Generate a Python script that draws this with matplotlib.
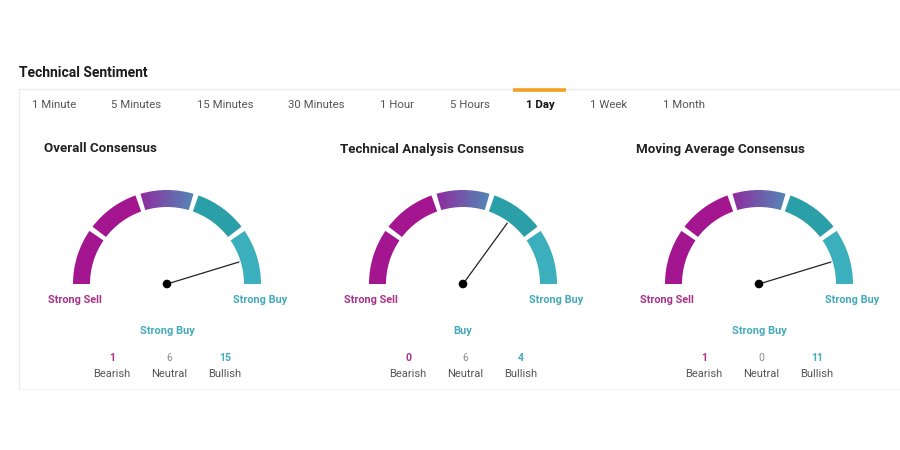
import numpy as np
import matplotlib.pyplot as plt
from matplotlib.patches import Wedge, Circle
from matplotlib.colors import to_rgb

plt.rcParams['font.family'] = ['Roboto', 'DejaVu Sans']

# data
tabs = ['1 Minute', '5 Minutes', '15 Minutes', '30 Minutes', '1 Hour', '5 Hours', '1 Day', '1 Week', '1 Month']
tab_x = [32, 111, 197, 288, 380, 450, 526, 590, 663]
active_tab = '1 Day'
panels = ['Overall Consensus', 'Technical Analysis Consensus', 'Moving Average Consensus']
verdicts = ['Strong Buy', 'Buy', 'Strong Buy']
bearish = [1, 0, 1]
neutral = [6, 6, 0]
bullish = [15, 4, 11]
needle_deg = [17, 54, 17]   # needle angle, degrees above the "Strong Buy" end

# colours
magenta = '#A3168F'
teal_dark = '#2A9FA8'
teal_light = '#3BAFBC'
grad_left = '#902B9F'
grad_right = '#5287B5'
txt_sell = '#A8328A'
txt_buy = '#45AAB9'

fig = plt.figure(figsize=(9, 4.5), dpi=100)
ax = fig.add_axes([0, 0, 1, 1])

# header + tab strip
ax.text(19, 73, 'Technical Sentiment', fontsize=10, fontweight='bold', color='#1a1a1a', va='center')
ax.plot([19, 900], [88.5, 88.5], color='#ececec', lw=1)
ax.plot([19, 19], [88.5, 389], color='#ececec', lw=1)
ax.plot([19, 900], [389, 389], color='#f3f3f3', lw=0.8)
for t, x in zip(tabs, tab_x):
    bold = t == active_tab
    ax.text(x, 105, t, fontsize=8.2, color='#111111' if bold else '#555555',
            fontweight='bold' if bold else 'normal', va='center')
    if bold:
        ax.plot([513, 566], [90, 90], color='#F5A021', lw=2.6, solid_capstyle='butt')

r_out, r_in = 94, 77
gap = 1.6
cy = 284

c0, c1 = np.array(to_rgb(grad_left)), np.array(to_rgb(grad_right))
grad = np.array([c0 + (c1 - c0) * f for f in np.linspace(0, 1, 64)])[None, :, :]


def seg(cx, a0, a1, col):
    # a0 < a1, visual angles (deg, counterclockwise from right); y axis is inverted
    w = Wedge((cx, cy), r_out, -a1, -a0, width=r_out - r_in, facecolor=col, edgecolor='none')
    ax.add_patch(w)
    return w


for i, cx in enumerate([167, 463, 759]):
    ax.text(cx - 123, 149, panels[i], fontsize=9.6, fontweight='bold', color='#222222', va='center')
    # five segments, 36 deg each, from Strong Sell (180) to Strong Buy (0)
    seg(cx, 144 + gap, 180, magenta)
    seg(cx, 108 + gap, 144 - gap, magenta)
    mid = seg(cx, 72 + gap, 108 - gap, 'none')
    x0 = cx - r_out * np.cos(np.radians(72 + gap))
    x1 = cx + r_out * np.cos(np.radians(72 + gap))
    im = ax.imshow(grad, extent=(x0, x1, cy - r_in * np.sin(np.radians(72)) + 2, cy - r_out - 1),
                   aspect='auto', interpolation='bilinear')
    im.set_clip_path(mid)
    seg(cx, 36 + gap, 72 - gap, teal_dark)
    seg(cx, 0, 36 - gap, teal_light)

    # needle
    a = np.radians(needle_deg[i])
    L = 75
    ax.plot([cx, cx + L * np.cos(a)], [cy, cy - L * np.sin(a)], color='#222222', lw=0.9)
    ax.add_patch(Circle((cx, cy), 3.6, color='black', zorder=5))

    ax.text(cx - 92, 300, 'Strong Sell', fontsize=7.8, fontweight='bold', color=txt_sell, ha='center', va='center')
    ax.text(cx + 93, 300, 'Strong Buy', fontsize=7.8, fontweight='bold', color=txt_buy, ha='center', va='center')
    ax.text(cx, 331, verdicts[i], fontsize=7.9, fontweight='bold', color=txt_buy, ha='center', va='center')

    ax.text(cx - 55, 358, str(bearish[i]), fontsize=7.6, fontweight='bold', color=txt_sell, ha='center', va='center')
    ax.text(cx + 2, 358, str(neutral[i]), fontsize=7.6, color='#8a8a8a', ha='center', va='center')
    ax.text(cx + 58, 358, str(bullish[i]), fontsize=7.6, fontweight='bold', color=txt_buy, ha='center', va='center')
    ax.text(cx - 55, 374, 'Bearish', fontsize=8, color='#555555', ha='center', va='center')
    ax.text(cx + 2, 374, 'Neutral', fontsize=8, color='#555555', ha='center', va='center')
    ax.text(cx + 58, 374, 'Bullish', fontsize=8, color='#555555', ha='center', va='center')

ax.set_xlim(0, 900)
ax.set_ylim(450, 0)
ax.axis('off')

fig.savefig('out.png', dpi=100)
